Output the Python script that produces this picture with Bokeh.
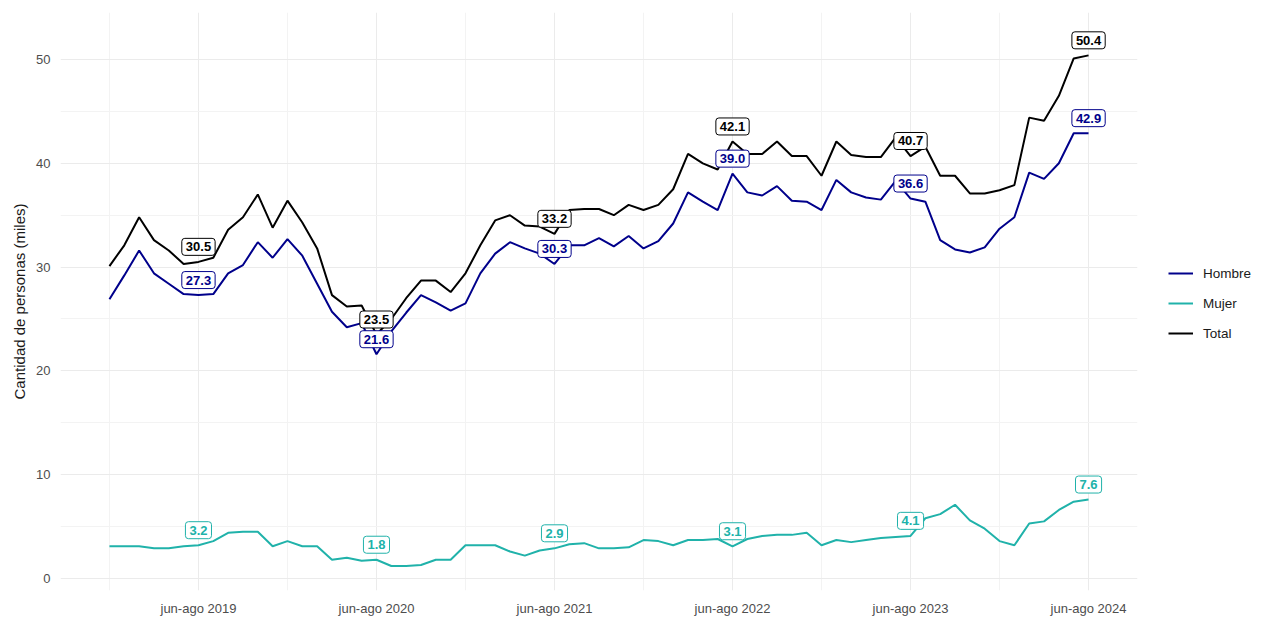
from bokeh.plotting import figure
from bokeh.layouts import row
from bokeh.models import (FixedTicker, Legend, LegendItem, ColumnDataSource, Range1d)
from bokeh.core.properties import value
from bokeh.embed import file_html
from bokeh.resources import INLINE

# ---- data (thousands of people), rolling quarters dic-feb 2019 .. jun-ago 2024 ----
total = [30.1, 32.1, 34.8, 32.6, 31.6, 30.3, 30.5, 30.9, 33.6, 34.8,
         37.0, 33.8, 36.4, 34.3, 31.8, 27.3, 26.2, 26.3, 23.5, 25.0,
         27.0, 28.7, 28.7, 27.6, 29.4, 32.1, 34.5, 35.0, 34.0, 33.9,
         33.2, 35.5, 35.6, 35.6, 35.0, 36.0, 35.5, 36.0, 37.5, 40.9,
         40.0, 39.4, 42.1, 40.9, 40.9, 42.1, 40.7, 40.7, 38.8, 42.1,
         40.8, 40.6, 40.6, 42.5, 40.7, 41.6, 38.8, 38.8, 37.1, 37.1,
         37.4, 37.9, 44.4, 44.1, 46.5, 50.1, 50.4]
hombre = [26.9, 29.2, 31.6, 29.4, 28.4, 27.4, 27.3, 27.4, 29.4, 30.2,
          32.4, 30.9, 32.7, 31.1, 28.4, 25.7, 24.2, 24.6, 21.6, 23.8,
          25.6, 27.3, 26.6, 25.8, 26.5, 29.4, 31.3, 32.4, 31.8, 31.3,
          30.3, 32.1, 32.1, 32.8, 32.0, 33.0, 31.8, 32.5, 34.2, 37.2,
          36.3, 35.5, 39.0, 37.2, 36.9, 37.8, 36.4, 36.3, 35.5, 38.4,
          37.2, 36.7, 36.5, 38.3, 36.6, 36.3, 32.6, 31.7, 31.4, 31.9,
          33.7, 34.8, 39.1, 38.5, 40.0, 42.9, 42.9]
mujer = [3.1, 3.1, 3.1, 2.9, 2.9, 3.1, 3.2, 3.6, 4.4, 4.5,
         4.5, 3.1, 3.6, 3.1, 3.1, 1.8, 2.0, 1.7, 1.8, 1.2,
         1.2, 1.3, 1.8, 1.8, 3.2, 3.2, 3.2, 2.6, 2.2, 2.7,
         2.9, 3.3, 3.4, 2.9, 2.9, 3.0, 3.7, 3.6, 3.2, 3.7,
         3.7, 3.8, 3.1, 3.8, 4.1, 4.2, 4.2, 4.4, 3.2, 3.7,
         3.5, 3.7, 3.9, 4.0, 4.1, 5.8, 6.2, 7.1, 5.6, 4.8,
         3.6, 3.2, 5.3, 5.5, 6.6, 7.4, 7.6]

tick_labels = ["jun-ago 2019", "jun-ago 2020", "jun-ago 2021",
               "jun-ago 2022", "jun-ago 2023", "jun-ago 2024"]
first_tick = 6          # jun-ago 2019 is the 7th quarter of the series
step = 12               # one year of monthly rolling quarters

series = [("Hombre", hombre, "#00008B"),
          ("Mujer", mujer, "#20B2AA"),
          ("Total", total, "#000000")]

x = list(range(len(total)))
major = [first_tick + step * k for k in range(len(tick_labels))]
minor = [m - step // 2 for m in major]

FONT = "Liberation Sans"
H = 618

p = figure(width=1138, height=H, output_backend="svg", toolbar_location=None,
           x_range=Range1d(-3.3, 69.3), y_range=Range1d(-1.16, 54.53),
           min_border_left=60, min_border_top=12, min_border_right=1,
           min_border_bottom=26)
p.outline_line_color = None
p.background_fill_color = "white"
p.border_fill_color = "white"

xt = FixedTicker(ticks=major, minor_ticks=minor)
yt = FixedTicker(ticks=[0, 10, 20, 30, 40, 50], minor_ticks=[5, 15, 25, 35, 45])
p.xaxis.ticker = xt
p.yaxis.ticker = yt
p.xgrid.ticker = xt
p.ygrid.ticker = yt
p.xaxis.major_label_overrides = {m: t for m, t in zip(major, tick_labels)}

for g in (p.xgrid, p.ygrid):
    g.grid_line_color = "#EBEBEB"
    g.grid_line_width = 1
    g.minor_grid_line_color = "#F3F3F3"
    g.minor_grid_line_width = 1

for ax in (p.xaxis, p.yaxis):
    ax.axis_line_color = None
    ax.major_tick_line_color = None
    ax.minor_tick_line_color = None
    ax.major_tick_out = 0
    ax.major_tick_in = 0
    ax.minor_tick_out = 0
    ax.minor_tick_in = 0
    ax.major_label_text_font = FONT
    ax.major_label_text_font_size = "13px"
    ax.major_label_text_color = "#4D4D4D"
p.xaxis.major_label_standoff = 10
p.yaxis.major_label_standoff = 10
p.yaxis.axis_label = "Cantidad de personas (miles)"
p.yaxis.axis_label_text_font = FONT
p.yaxis.axis_label_text_font_size = "15px"
p.yaxis.axis_label_text_font_style = "normal"
p.yaxis.axis_label_text_color = "#1A1A1A"
p.yaxis.axis_label_standoff = 5

NUDGE = 1.45
for name, vals, col in series:
    p.line(x, vals, line_color=col, line_width=2)

for name, vals, col in series:
    src = ColumnDataSource(dict(
        x=major,
        y=[vals[m] + NUDGE for m in major],
        t=[f"{vals[m]:.1f}" for m in major]))
    p.text(x="x", y="y", text="t", source=src,
           text_font=value(FONT), text_font_style="bold", text_font_size="13px",
           text_color=col, text_align="center", text_baseline="middle",
           background_fill_color="white", border_line_color=col,
           border_line_width=1, padding=4, border_radius=3)

# ---- legend panel (right); dummy lines sit outside the visible range ----
lg = figure(width=127, height=H, output_backend="svg", toolbar_location=None,
            x_range=Range1d(0, 1), y_range=Range1d(0, 1),
            min_border_left=0, min_border_right=0, min_border_top=0, min_border_bottom=0,
            x_axis_type=None, y_axis_type=None)
lg.outline_line_color = None
lg.xgrid.visible = False
lg.ygrid.visible = False
items = []
for name, vals, col in series:
    r = lg.line([-5, -4], [-5, -4], line_color=col, line_width=2)
    items.append(LegendItem(label=name, renderers=[r]))
legend = Legend(items=items, location=(30, 247), orientation="vertical",
                border_line_color=None, background_fill_alpha=0,
                label_text_font=FONT, label_text_font_size="13.5px",
                label_text_color="#1A1A1A", glyph_width=25, glyph_height=20,
                spacing=10, label_standoff=10, padding=0, margin=0)
lg.add_layout(legend, "center")

layout = row(p, lg, spacing=0)
open("out.html", "w").write(file_html(layout, INLINE))
